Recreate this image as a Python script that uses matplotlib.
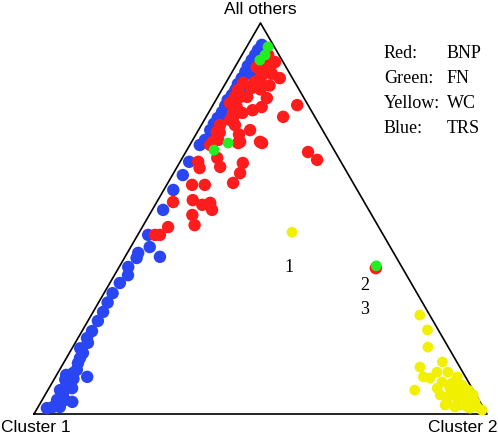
import numpy as np
import matplotlib.pyplot as plt

# Composiciones ternarias: (fraccion Cluster 2, fraccion "All others")
# Cluster 1 = 1 - las otras dos
blue_c2 = [0.031, 0.029, 0.029, 0.028, 0.027, 0.029, 0.029, 0.028, 0.030, 0.029,
           0.026, 0.028, 0.029, 0.027, 0.026, 0.026, 0.027, 0.022, 0.044, 0.042,
           0.040, 0.041, 0.040, 0.038, 0.020, 0.023, 0.021, 0.024, 0.023, 0.042,
           0.077, 0.024, 0.027, 0.020, 0.030, 0.022, 0.019, 0.022, 0.022, 0.022,
           0.020, 0.028, 0.030, 0.032, 0.034, 0.070, 0.035, 0.051, 0.037, 0.033,
           0.069, 0.033, 0.048, 0.021, 0.050, 0.027, 0.021, 0.030, 0.038, 0.057,
           0.045, 0.040, 0.035, 0.025, 0.042, 0.018, 0.020]
blue_oth = [0.944, 0.931, 0.918, 0.905, 0.890, 0.875, 0.859, 0.844, 0.829, 0.816,
            0.803, 0.788, 0.772, 0.757, 0.742, 0.726, 0.701, 0.688, 0.910, 0.870,
            0.830, 0.790, 0.750, 0.715, 0.645, 0.611, 0.573, 0.522, 0.458, 0.427,
            0.402, 0.412, 0.399, 0.376, 0.355, 0.335, 0.309, 0.261, 0.238, 0.212,
            0.194, 0.182, 0.156, 0.130, 0.105, 0.095, 0.079, 0.066, 0.054, 0.036,
            0.031, 0.018, 0.018, 0.015, 0.036, 0.061, 0.100, 0.143, 0.113, 0.913,
            0.025, 0.045, 0.070, 0.088, 0.090, 0.168, 0.285]

red_c2 = [0.058, 0.082, 0.079, 0.062, 0.048, 0.072, 0.063, 0.113, 0.064, 0.065,
          0.050, 0.110, 0.110, 0.094, 0.055, 0.054, 0.057, 0.186, 0.170, 0.074,
          0.114, 0.041, 0.043, 0.151, 0.107, 0.047, 0.038, 0.036, 0.038, 0.035,
          0.056, 0.045, 0.104, 0.157, 0.077, 0.095, 0.140, 0.147, 0.144, 0.040,
          0.051, 0.056, 0.084, 0.036, 0.077, 0.104, 0.119, 0.132, 0.095, 0.113,
          0.057, 0.049, 0.038, 0.270, 0.300, 0.568, 0.090, 0.070, 0.085, 0.100,
          0.060, 0.075, 0.095, 0.050]
red_oth = [0.918, 0.900, 0.885, 0.887, 0.887, 0.854, 0.849, 0.859, 0.834, 0.811,
           0.811, 0.808, 0.785, 0.777, 0.785, 0.770, 0.752, 0.790, 0.760, 0.739,
           0.726, 0.739, 0.721, 0.696, 0.696, 0.696, 0.847, 0.829, 0.811, 0.795,
           0.701, 0.688, 0.693, 0.693, 0.655, 0.632, 0.642, 0.616, 0.591, 0.645,
           0.629, 0.586, 0.586, 0.542, 0.547, 0.535, 0.540, 0.522, 0.509, 0.483,
           0.478, 0.458, 0.458, 0.670, 0.650, 0.373, 0.870, 0.865, 0.830, 0.840,
           0.760, 0.770, 0.715, 0.720]

green_c2 = [0.047, 0.051, 0.046, 0.082, 0.060, 0.566]
green_oth = [0.939, 0.918, 0.905, 0.693, 0.675, 0.379]

yellow_c2 = [0.337, 0.725, 0.761, 0.784, 0.835, 0.792, 0.812, 0.828, 0.860, 0.810,
             0.857, 0.883, 0.887, 0.898, 0.916, 0.918, 0.944, 0.969, 0.947, 0.920,
             0.945, 0.908, 0.927, 0.894, 0.896, 0.929, 0.984, 0.955, 0.872, 0.894,
             0.924, 0.958, 0.885, 0.860, 0.836, 0.928]
yellow_oth = [0.465, 0.253, 0.215, 0.171, 0.133, 0.120, 0.095, 0.092, 0.107, 0.061,
              0.066, 0.079, 0.095, 0.061, 0.061, 0.036, 0.036, 0.018, 0.018, 0.018,
              0.049, 0.074, 0.049, 0.049, 0.023, 0.023, 0.010, 0.015, 0.049, 0.036,
              0.041, 0.031, 0.066, 0.082, 0.107, 0.061]

legend_left = ['Red:', 'Green:', 'Yellow:', 'Blue:']
legend_right = ['BNP', 'FN', 'WC', 'TRS']
point_labels = ['1', '2', '3']

H = np.sqrt(3) / 2


def to_xy(c2, oth):
    c2 = np.asarray(c2)
    oth = np.asarray(oth)
    return c2 + oth / 2, oth * H


fig = plt.figure(figsize=(4.98, 4.38), dpi=100)
ax = fig.add_axes([0, 0, 1, 1])
ax.set_xlim(-34 / 453, 464 / 453)
ax.set_ylim(-24 / 451.5, 414 / 451.5)
ax.axis('off')

# Triangulo
ax.plot([0, 1, 0.5, 0], [0, 0, H, 0], color='black', lw=1.2, zorder=1)

ms = 80
x, y = to_xy(blue_c2, blue_oth)
ax.scatter(x, y, s=ms, color='#2a46f2', edgecolors='none', zorder=2)
x, y = to_xy(red_c2, red_oth)
ax.scatter(x, y, s=ms, color='#ff1c1c', edgecolors='none', zorder=3)
x, y = to_xy(green_c2, green_oth)
ax.scatter(x, y, s=60, color='#22ee22', edgecolors='none', zorder=4)
x, y = to_xy(yellow_c2, yellow_oth)
ax.scatter(x, y, s=60, color='#f0f000', edgecolors='none', zorder=4)

sans = 'Liberation Sans'
serif = 'Liberation Serif'
W, Hpx = 498, 438

fig.text(260 / W, 1 - 10 / Hpx, 'All others', ha='center', va='center',
         fontsize=12.5, family=sans)
fig.text(1 / W, 1 - 428 / Hpx, 'Cluster 1', ha='left', va='center',
         fontsize=12.5, family=sans)
fig.text(497 / W, 1 - 428 / Hpx, 'Cluster 2', ha='right', va='center',
         fontsize=12.5, family=sans)

for i, (a, b) in enumerate(zip(legend_left, legend_right)):
    yy = 1 - (53 + i * 25.3) / Hpx
    fig.text(384 / W, yy, a, ha='left', va='center', fontsize=13, family=serif)
    fig.text(447 / W, yy, b, ha='left', va='center', fontsize=13, family=serif)

for lab, (px, py) in zip(point_labels, [(289, 268), (365, 285), (365, 310)]):
    fig.text(px / W, 1 - py / Hpx, lab, ha='center', va='center',
             fontsize=13, family=serif)

fig.savefig('out.png', dpi=100)
